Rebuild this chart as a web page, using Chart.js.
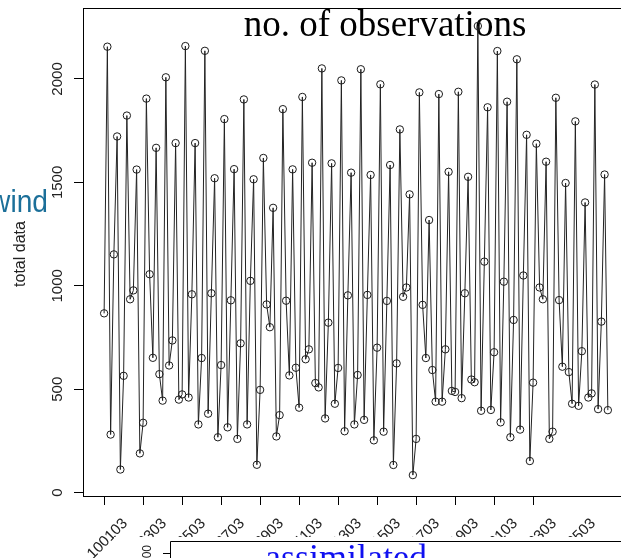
<!DOCTYPE html>
<html>
<head>
<meta charset="utf-8">
<script src="https://cdn.jsdelivr.net/npm/chart.js@4.4.1/dist/chart.umd.min.js"></script>
<style>
  html, body { margin: 0; padding: 0; background: #fff; overflow: hidden; width: 621px; height: 558px; }
  #wrap { position: absolute; left: 0; top: 0; width: 640px; height: 558px; }
</style>
</head>
<body>
<div id="wrap"><canvas id="c"></canvas></div>
<script>
// Observation time stamps (MMDDHH) shown under the x axis
const tickLabels = ["100103", "100303", "100503", "100703", "100903", "101103", "101303",
                    "101503", "101703", "101903", "102103", "102303", "102503"];
// Sample index of each time stamp label, and of each tick mark on the axis
const labelIndex = [0, 12, 24, 36, 48, 60, 72, 84, 96, 108, 120, 132, 144];
const tickIndex  = [0, 12, 24, 36, 48, 60, 72, 84, 96, 108, 120, 132];
// Left axis ticks
const yTicks = [0, 500, 1000, 1500, 2000];

// Total number of wind observations per analysis cycle
const totalData = [
   867, 2156,  281, 1152, 1722,  112,  565, 1823,  935,  978, 1562,  190,
   338, 1905, 1056,  652, 1667,  573,  445, 2008,  615,  736, 1690,  450,
   475, 2159,  460,  959, 1690,  330,  651, 2136,  382,  964, 1520,  268,
   617, 1806,  316,  930, 1564,  260,  722, 1901,  330, 1024, 1515,  135,
   497, 1618,  910,  800, 1377,  272,  375, 1854,  928,  567, 1563,  604,
   411, 1913,  645,  693, 1595,  530,  509, 2051,  359,  822, 1592,  430,
   603, 1993,  297,  954, 1547,  330,  569, 2047,  352,  956, 1536,  253,
   701, 1974,  295,  927, 1584,  134,  625, 1756,  947,  992, 1442,   85,
   260, 1935,  908,  651, 1318,  593,  440, 1927,  440,  693, 1551,  492,
   487, 1938,  457,  964, 1527,  547,  534, 2256,  396, 1117, 1863,  400,
   679, 2135,  340, 1020, 1890,  268,  835, 2095,  305, 1050, 1730,  153,
   532, 1687,  992,  935, 1600,  260,  295, 1909,  931,  609, 1497,  583,
   430, 1795,  420,  684, 1403,  460,  480, 1973,  404,  827, 1538,  399
];

const SANS = '"Liberation Sans", Arial, Helvetica, sans-serif';
const SERIF = '"Liberation Serif", "Times New Roman", serif';

// Title sits inside the plot box, under the series
const titlePlugin = {
  id: 'panelTitle',
  beforeDatasetsDraw(chart) {
    const ctx = chart.ctx;
    ctx.save();
    ctx.fillStyle = '#000';
    ctx.font = '37px ' + SERIF;
    ctx.textAlign = 'center';
    ctx.textBaseline = 'alphabetic';
    ctx.fillText('no. of observations', 385, 36);
    ctx.restore();
  }
};

// Box, axis labels and the neighbouring panel fragments
const decorPlugin = {
  id: 'panelDecor',
  afterDraw(chart) {
    const ctx = chart.ctx;
    const ca = chart.chartArea;
    const xs = chart.scales.x, ys = chart.scales.y;
    ctx.save();

    // plot box
    ctx.strokeStyle = '#000';
    ctx.lineWidth = 1;
    ctx.strokeRect(ca.left + 0.5, ca.top + 0.5, ca.right - ca.left, ca.bottom - ca.top);

    // y tick labels, reading upward
    ctx.fillStyle = '#222';
    ctx.font = '15px ' + SANS;
    ctx.textAlign = 'center';
    ctx.textBaseline = 'alphabetic';
    yTicks.forEach(v => {
      const py = ys.getPixelForValue(v);
      ctx.save();
      ctx.translate(62, py);
      ctx.rotate(-Math.PI / 2);
      ctx.fillText(String(v), 0, 0);
      ctx.restore();
    });

    // x tick labels at 45 degrees
    ctx.textAlign = 'right';
    tickLabels.forEach((lab, k) => {
      const px = xs.getPixelForValue(labelIndex[k]);
      ctx.save();
      ctx.translate(px + 24, 524);
      ctx.rotate(-Math.PI / 4);
      ctx.fillText(lab, 0, 0);
      ctx.restore();
    });

    // y axis title
    ctx.font = '16px ' + SANS;
    ctx.textAlign = 'center';
    ctx.save();
    ctx.translate(24.5, 254);
    ctx.rotate(-Math.PI / 2);
    ctx.fillText('total data', 0, 0);
    ctx.restore();

    // heading of the panel on the left
    ctx.fillStyle = '#1b6f99';
    ctx.font = '32px ' + SANS;
    ctx.textAlign = 'right';
    ctx.save();
    ctx.translate(48, 212);
    ctx.scale(0.88, 1);
    ctx.fillText('wind', 0, 0);
    ctx.restore();

    // panel below
    ctx.fillStyle = '#fff';
    ctx.fillRect(114, 537, 540, 24);
    ctx.strokeStyle = '#000';
    ctx.beginPath();
    ctx.moveTo(170.5, 558);
    ctx.lineTo(170.5, 541.5);
    ctx.lineTo(640, 541.5);
    ctx.moveTo(163, 553.5);
    ctx.lineTo(170.5, 553.5);
    ctx.stroke();

    ctx.fillStyle = '#222';
    ctx.font = '12px ' + SANS;
    ctx.textAlign = 'center';
    ctx.save();
    ctx.translate(151, 555);
    ctx.rotate(-Math.PI / 2);
    ctx.fillText('200', 0, 0);
    ctx.restore();

    ctx.fillStyle = '#1010f0';
    ctx.font = '36px ' + SERIF;
    ctx.textAlign = 'left';
    ctx.fillText('assimilated', 265, 569);

    ctx.restore();
  }
};

const axisGrid = {
  display: true,
  drawOnChartArea: false,
  drawTicks: true,
  tickLength: 9,
  color: '#000',
  lineWidth: 1
};

new Chart(document.getElementById('c'), {
  type: 'line',
  data: {
    datasets: [{
      data: totalData.map((v, i) => ({ x: i, y: v })),
      borderColor: '#222',
      borderWidth: 1,
      tension: 0,
      fill: false,
      pointRadius: 3.7,
      pointBorderWidth: 1,
      pointBorderColor: '#1a1a1a',
      pointBackgroundColor: 'rgba(0,0,0,0)'
    }]
  },
  options: {
    responsive: true,
    maintainAspectRatio: false,
    animation: false,
    devicePixelRatio: 1,
    events: [],
    layout: { padding: { left: 0, top: 8, right: 12, bottom: 0 } },
    plugins: { legend: { display: false }, tooltip: { enabled: false }, title: { display: false } },
    scales: {
      x: {
        type: 'linear',
        min: -6.5,
        max: 161.2,
        afterBuildTicks(s) { s.ticks = tickIndex.map(v => ({ value: v })); },
        afterFit(s) { s.height = 62; },
        ticks: { display: false },
        grid: axisGrid,
        border: { display: false }
      },
      y: {
        type: 'linear',
        min: -16,
        max: 2343,
        afterBuildTicks(s) { s.ticks = yTicks.map(v => ({ value: v })); },
        afterFit(s) { s.width = 83; },
        ticks: { display: false },
        grid: axisGrid,
        border: { display: false }
      }
    }
  },
  plugins: [titlePlugin, decorPlugin]
});
</script>
</body>
</html>
